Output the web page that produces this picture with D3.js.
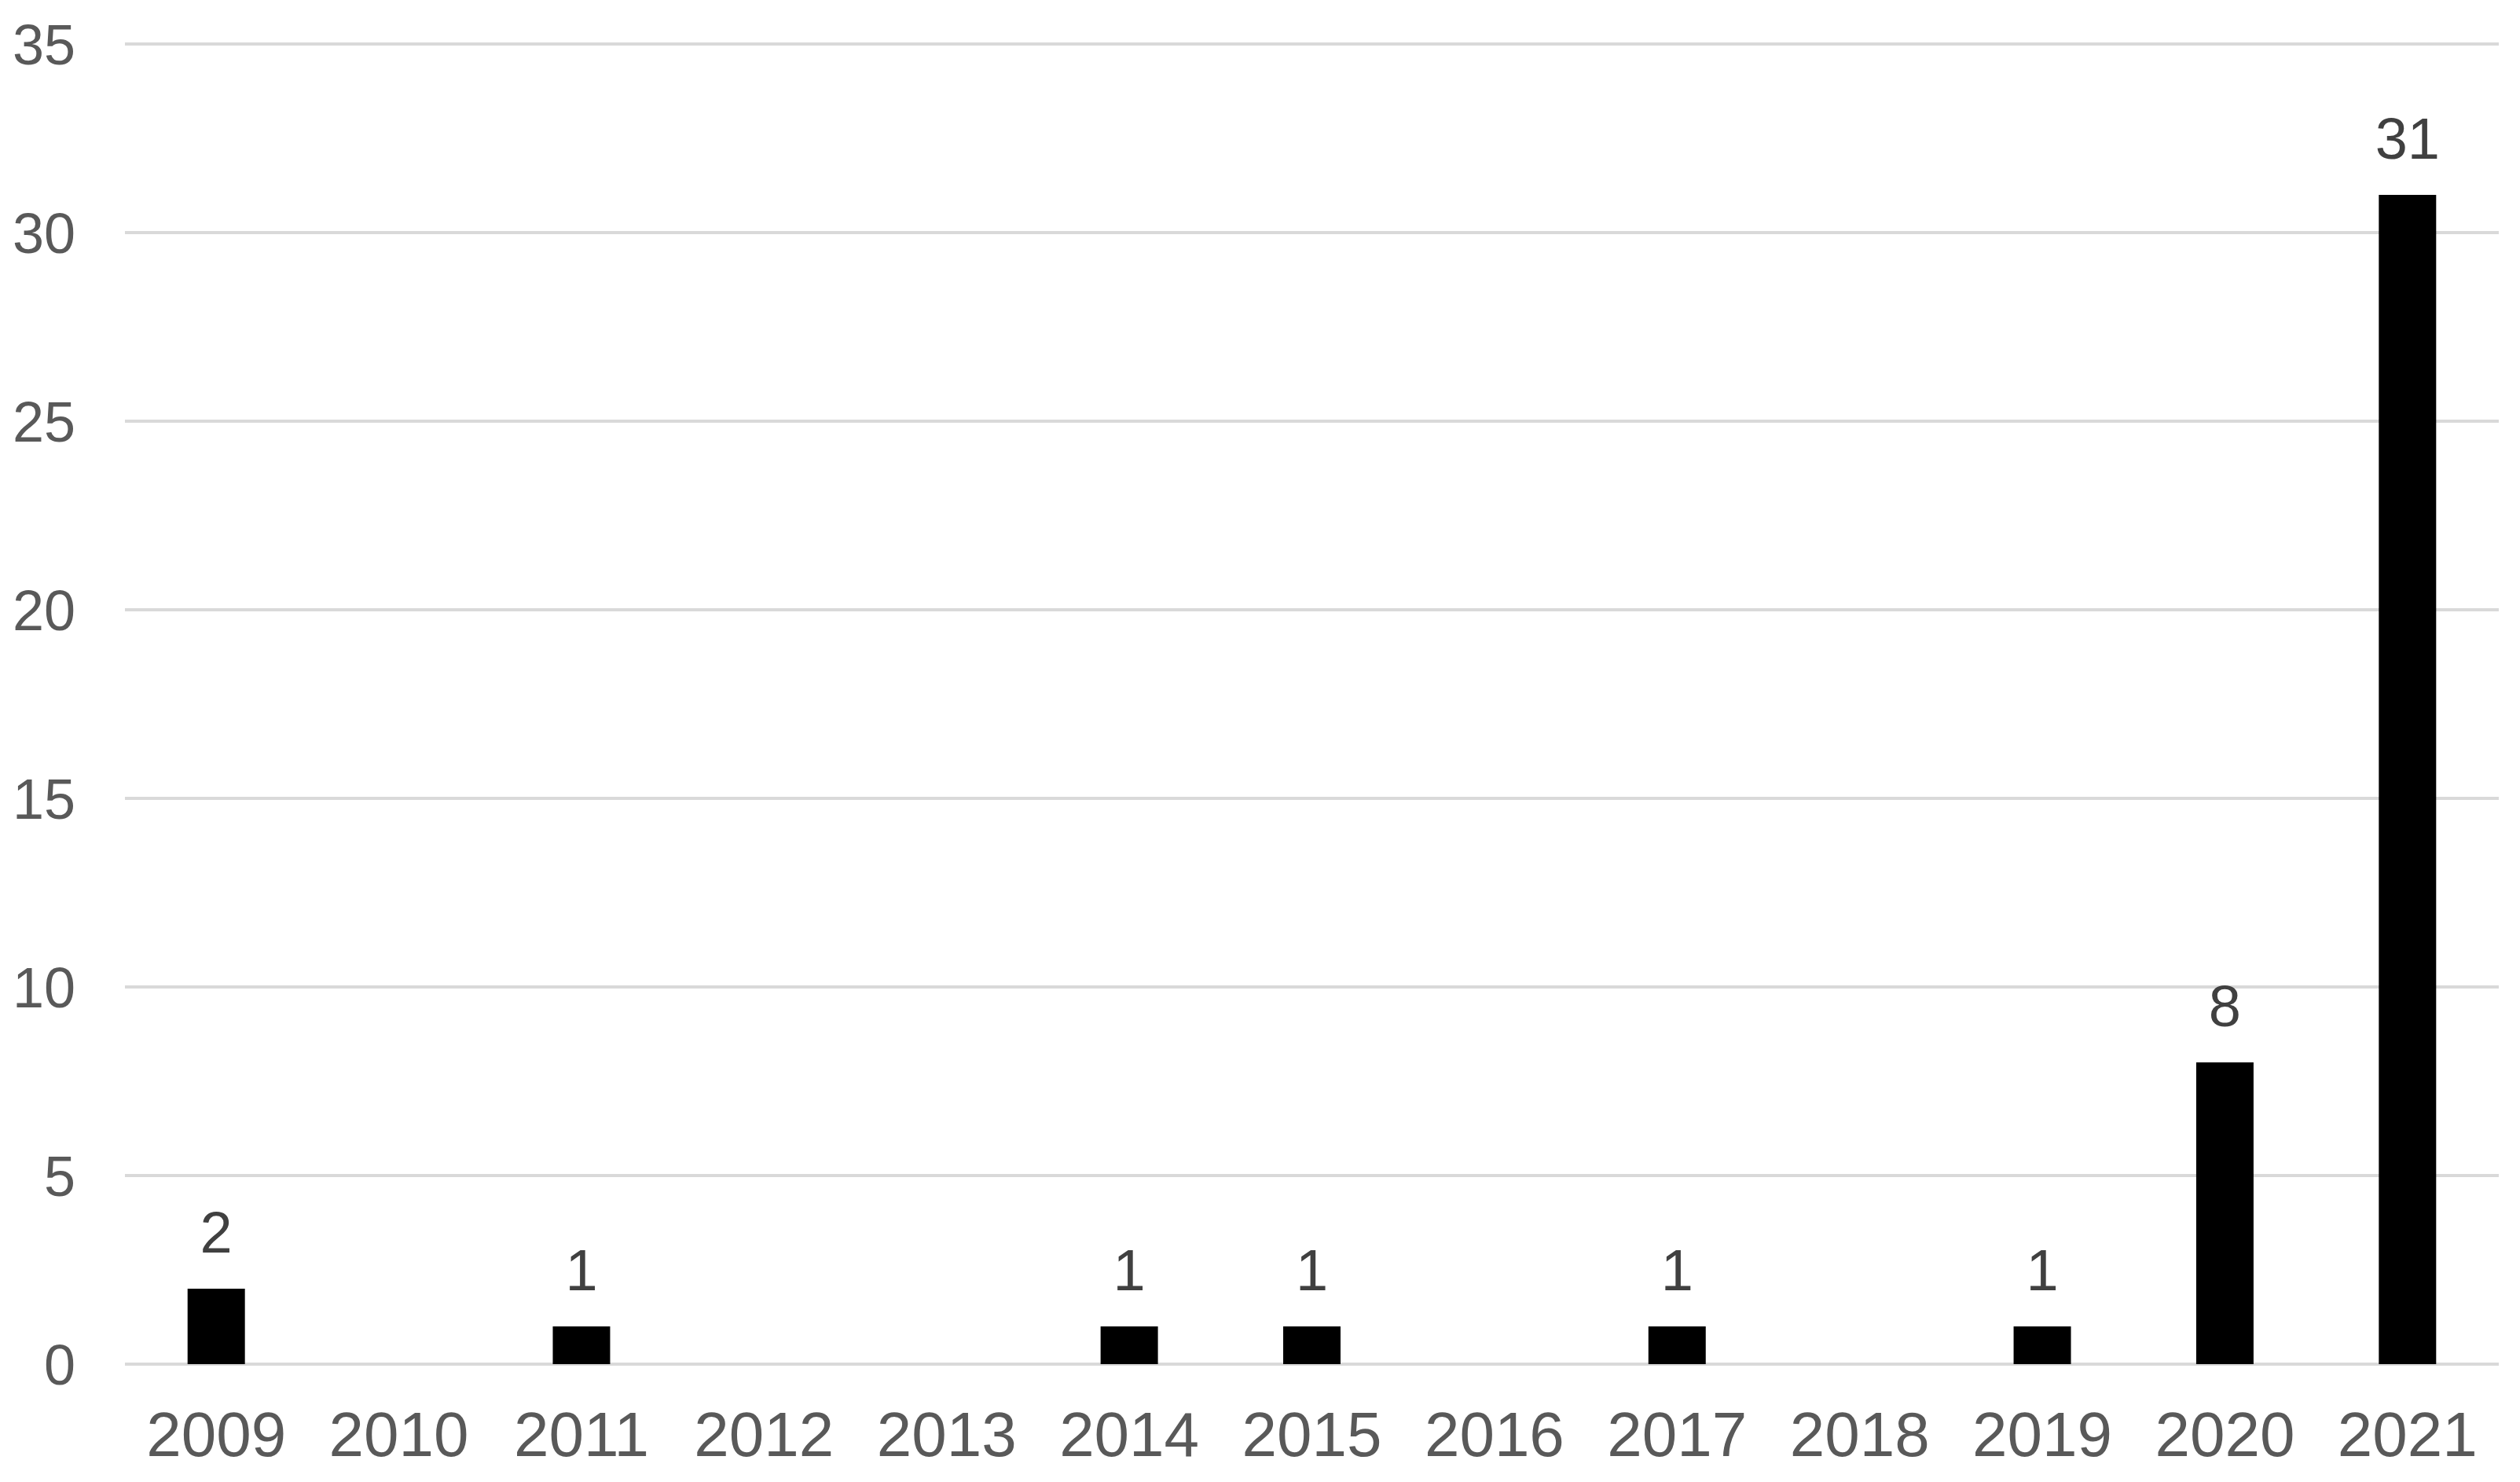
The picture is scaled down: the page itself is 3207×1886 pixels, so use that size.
<!DOCTYPE html>
<html>
<head>
<meta charset="utf-8">
<script src="https://cdn.jsdelivr.net/npm/d3@7"></script>
<style>
  html, body { margin: 0; padding: 0; background: #fff; }
  svg { display: block; }
</style>
</head>
<body>
<div id="chart"></div>
<script>
var years = ["2009", "2010", "2011", "2012", "2013", "2014", "2015", "2016", "2017", "2018", "2019", "2020", "2021"];
var counts = [2, 0, 1, 0, 0, 1, 1, 0, 1, 0, 1, 8, 31];
var yTicks = [0, 5, 10, 15, 20, 25, 30, 35];

var width = 3207, height = 1886;
var margin = { top: 56, right: 27, bottom: 150, left: 159 };

var rows = years.map(function (yr, i) {
    return { year: yr, value: counts[i] };
});

var svg = d3.select("#chart")
    .append("svg")
    .attr("width", width)
    .attr("height", height);

var x = d3.scaleBand()
    .domain(years)
    .range([margin.left, width - margin.right])
    .paddingInner(0.686)
    .paddingOuter(0.343);

var y = d3.scaleLinear()
    .domain([0, 35])
    .range([height - margin.bottom, margin.top]);

// gridlines
svg.append("g")
    .selectAll("line")
    .data(yTicks)
    .enter().append("line")
    .attr("x1", margin.left)
    .attr("x2", width - margin.right)
    .attr("y1", function (d) { return y(d); })
    .attr("y2", function (d) { return y(d); })
    .attr("stroke", "#d9d9d9")
    .attr("stroke-width", 4);

// y labels
svg.append("g")
    .selectAll("text")
    .data(yTicks)
    .enter().append("text")
    .attr("x", 96)
    .attr("y", function (d) { return y(d); })
    .attr("dy", "0.36em")
    .attr("text-anchor", "end")
    .attr("font-family", "Liberation Sans, Arial, sans-serif")
    .attr("font-size", 72)
    .attr("fill", "#595959")
    .text(function (d) { return d; });

// bars
svg.append("g")
    .selectAll("rect")
    .data(rows)
    .enter().append("rect")
    .attr("x", function (d) { return x(d.year); })
    .attr("width", x.bandwidth())
    .attr("y", function (d) { return y(d.value); })
    .attr("height", function (d) { return y(0) - y(d.value); })
    .attr("fill", "#000");

// value labels (only non-zero)
svg.append("g")
    .selectAll("text")
    .data(rows.filter(function (d) { return d.value > 0; }))
    .enter().append("text")
    .attr("x", function (d) { return x(d.year) + x.bandwidth() / 2; })
    .attr("y", function (d) { return y(d.value) - 46; })
    .attr("text-anchor", "middle")
    .attr("font-family", "Liberation Sans, Arial, sans-serif")
    .attr("font-size", 74)
    .attr("fill", "#404040")
    .text(function (d) { return d.value; });

// x labels
svg.append("g")
    .selectAll("text")
    .data(years)
    .enter().append("text")
    .attr("x", function (d) { return x(d) + x.bandwidth() / 2; })
    .attr("y", 1853)
    .attr("text-anchor", "middle")
    .attr("font-family", "Liberation Sans, Arial, sans-serif")
    .attr("font-size", 80)
    .attr("fill", "#595959")
    .text(function (d) { return d; });
</script>
</body>
</html>
